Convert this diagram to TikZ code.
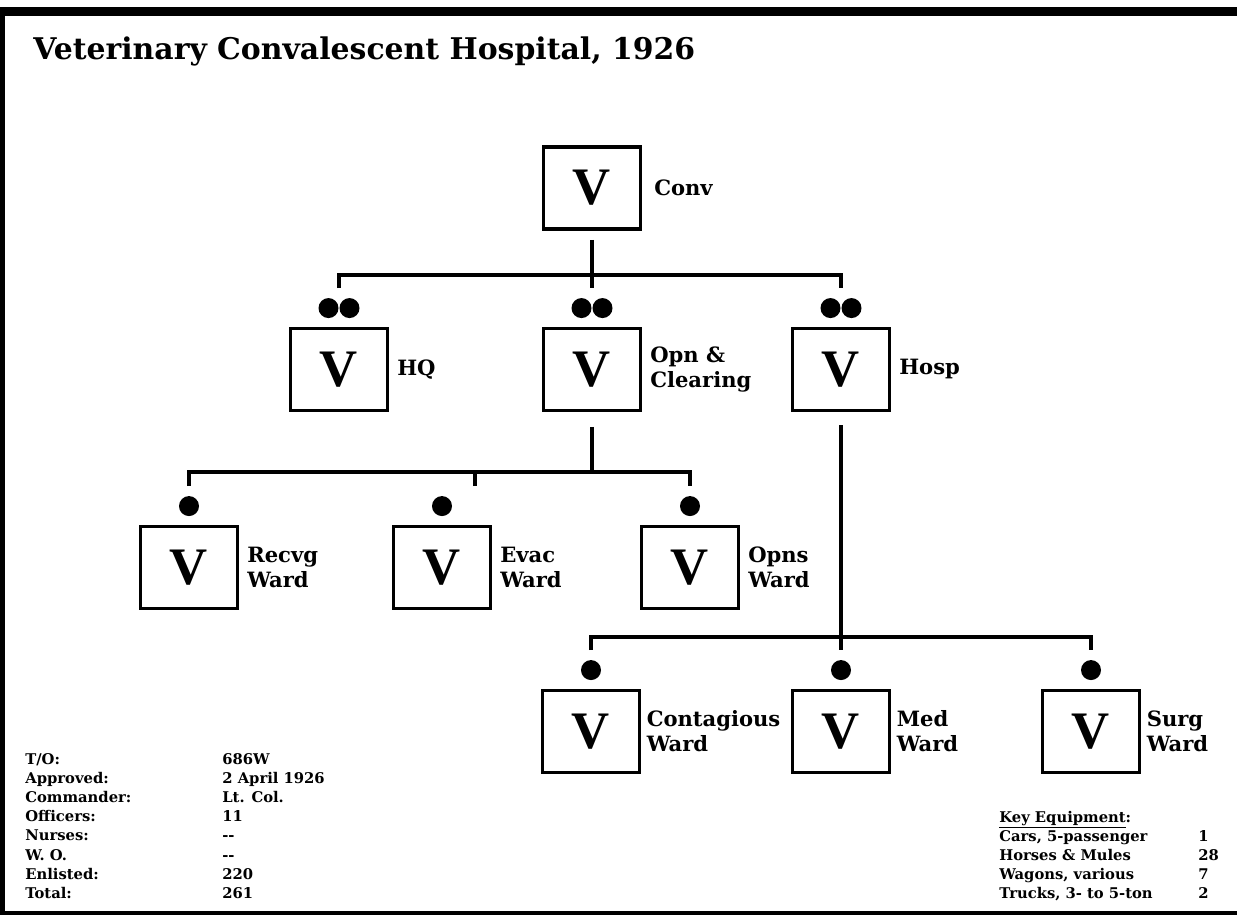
\documentclass[tikz,border=0pt]{standalone}
\usepackage{fontspec}
\setmainfont{DejaVu Serif}
\newfontfamily\unitfont{Liberation Serif}
\usetikzlibrary{positioning,calc}

\tikzset{
  unitbox/.style={draw, line width=2.2pt, minimum width=1.94cm, minimum height=1.64cm,
    inner sep=0pt, font=\unitfont\bfseries\fontsize{30}{30}\selectfont},
  unitname/.style={inner sep=0pt, align=left, font=\bfseries\fontsize{12}{14.2}\selectfont},
  conn/.style={line width=2.2pt},
  info/.style={anchor=base west, inner sep=0pt, font=\bfseries\fontsize{8.4}{10}\selectfont},
}

\begin{document}
\begin{tikzpicture}[x=0.02cm, y=-0.02cm]
  \useasboundingbox (0,0) rectangle (1237,915);

  % Frame.
  \fill (0,7) rectangle (1237,16);
  \fill (0,7) rectangle (5,915);
  \fill (0,911) rectangle (1237,915);

  % Title.
  \node[anchor=base west, inner sep=0pt, font=\bfseries\fontsize{17}{20}\selectfont]
    (title) at (33,60) {Veterinary Convalescent Hospital, 1926};

  % Units.
  \node[unitbox] (conv) at (592,188) {V};
  \node[unitbox] (hq) at (339,369.5) {V};
  \node[unitbox] (opn) at (592,369.5) {V};
  \node[unitbox] (hosp) at (841,369.5) {V};
  \node[unitbox] (recvg) at (189,567.5) {V};
  \node[unitbox] (evac) at (442,567.5) {V};
  \node[unitbox] (opns) at (690,567.5) {V};
  \node[unitbox] (contag) at (591,731.5) {V};
  \node[unitbox] (med) at (841,731.5) {V};
  \node[unitbox] (surg) at (1091,731.5) {V};

  % Unit names.
  \node[unitname, right=0.23cm of conv] (conv-n) {Conv};
  \node[unitname, right=0.15cm of hq] (hq-n) {HQ};
  \node[unitname, right=0.15cm of opn] (opn-n) {Opn \&\\Clearing};
  \node[unitname, right=0.15cm of hosp] (hosp-n) {Hosp};
  \node[unitname, right=0.15cm of recvg] (recvg-n) {Recvg\\Ward};
  \node[unitname, right=0.15cm of evac] (evac-n) {Evac\\Ward};
  \node[unitname, right=0.15cm of opns] (opns-n) {Opns\\Ward};
  \node[unitname, right=0.1cm of contag] (contag-n) {Contagious\\Ward};
  \node[unitname, right=0.1cm of med] (med-n) {Med\\Ward};
  \node[unitname, right=0.1cm of surg] (surg-n) {Surg\\Ward};

  % Size dots: two for companies, one for platoons.
  \foreach \u in {hq,opn,hosp}{
    \fill ($(\u.north)+(-10.5,-18.5)$) circle (0.2cm);
    \fill ($(\u.north)+(10.5,-18.5)$) circle (0.2cm);
  }
  \foreach \u in {recvg,evac,opns,contag,med,surg}
    \fill ($(\u.north)+(0,-18.5)$) circle (0.2cm);

  % Drop ends and bar levels.
  \foreach \u in {hq,opn,hosp,recvg,opns,contag,med,surg}
    \coordinate (\u-d) at ($(\u.north)+(0,-38.5)$);
  \coordinate (evac-d) at ($(evac.north)+(33,-38.5)$);
  \coordinate (bar1) at (0,275);
  \coordinate (bar2) at (0,472);
  \coordinate (bar3) at (0,637);

  % Connectors.
  \draw[conn] ($(conv.south)+(0,9)$) -- (opn-d);
  \draw[conn] (hq-d) -- (hq-d |- bar1) -| (hosp-d);
  \draw[conn] ($(opn.south)+(0,14.5)$) -- (opn.south |- bar2);
  \draw[conn] (recvg-d) -- (recvg-d |- bar2) -| (opns-d);
  \draw[conn] (evac-d) -- (evac-d |- bar2);
  \draw[conn] ($(hosp.south)+(0,13)$) -- (med-d);
  \draw[conn] (contag-d) -- (contag-d |- bar3) -| (surg-d);

  % Strength table.
  \foreach \y/\k/\v [count=\i] in {764/{T/O:}/686W, 783.2/Approved:/2 April 1926,
      802.4/Commander:/Lt. Col., 821.6/Officers:/11, 840.8/Nurses:/-{}-,
      860/W. O./-{}-, 879.2/Enlisted:/220, 898.4/Total:/261}{
    \node[info] (key\i) at (25,\y) {\k};
    \node[info] (val\i) at (222,\y) {\v};
  }

  % Key equipment.
  \node[info] (equip) at (999,822) {\underline{Key Equipment}:};
  \foreach \y/\k/\v [count=\i] in {841/{Cars, 5-passenger}/1, 860/Horses \& Mules/28,
      879/{Wagons, various}/7, 898/{Trucks, 3- to 5-ton}/2}{
    \node[info] (item\i) at (999,\y) {\k};
    \node[info] (num\i) at (1198,\y) {\v};
  }
\end{tikzpicture}
\end{document}
